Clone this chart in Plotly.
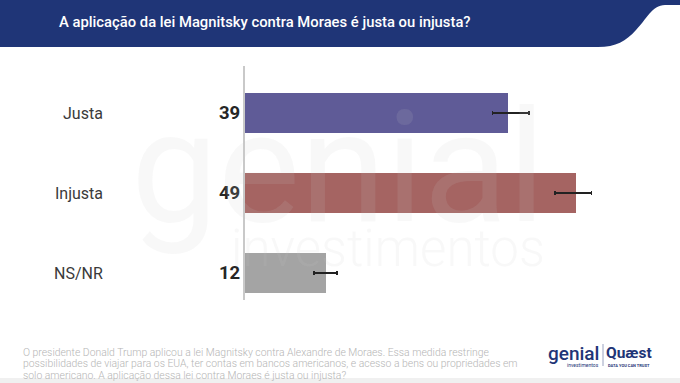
import plotly.graph_objects as go

categories = ["Justa", "Injusta", "NS/NR"]
values = [39, 49, 12]
err_plus = [3.1, 2.3, 1.6]
err_minus = [2.3, 3.1, 1.8]
colors = ["#5f5b97", "#a56462", "#a4a4a4"]

title_text = "A aplicação da lei Magnitsky contra Moraes é justa ou injusta?"
footnote_lines = [
    "O presidente Donald Trump aplicou a lei Magnitsky contra Alexandre de Moraes. Essa medida restringe",
    "possibilidades de viajar para os EUA, ter contas em bancos americanos, e acesso a bens ou propriedades em",
    "solo americano. A aplicação dessa lei contra Moraes é justa ou injusta?",
]

W, H = 680, 383
L, R, T, B = 245, 30, 66, 83
PW, PH = W - L - R, H - T - B

def px(x):
    return (x - L) / PW

def py(y):
    return 1 - (y - T) / PH

fig = go.Figure()
fig.add_trace(go.Bar(
    y=categories, x=values, orientation="h",
    marker=dict(color=colors, line=dict(width=0)),
    width=0.49,
    error_x=dict(type="data", symmetric=False, array=err_plus, arrayminus=err_minus,
                 color="#222222", thickness=1.5, width=2),
    hoverinfo="skip",
))

ann = []
for c, v in zip(categories, values):
    ann.append(dict(x=0, y=c, xref="x", yref="y", text=f"<b>{v}</b>", showarrow=False,
                    xanchor="right", xshift=-3, font=dict(family="Roboto", size=18.5, color="#262626")))
    ann.append(dict(x=0, y=c, xref="x", yref="y", text=c, showarrow=False,
                    xanchor="right", xshift=-140, font=dict(family="Roboto", size=16, color="#3a3a3a")))

# watermark
wm = "rgba(200,200,200,0.13)"
ann.append(dict(x=px(338), y=py(168), xref="paper", yref="paper", text="genial", showarrow=False,
                xanchor="center", yanchor="middle",
                font=dict(family="Roboto", size=155, color=wm, weight=400)))
ann.append(dict(x=px(388), y=py(248), xref="paper", yref="paper", text="investimentos", showarrow=False,
                xanchor="center", yanchor="middle",
                font=dict(family="Roboto", size=51, color=wm, weight=300)))

# title
ann.append(dict(x=px(57), y=py(22), xref="paper", yref="paper", xanchor="left", yanchor="middle",
                text=title_text, showarrow=False,
                font=dict(family="Roboto", size=14.8, color="white", weight=500)))

# footnote
for i, line in enumerate(footnote_lines):
    ann.append(dict(x=px(21), y=py(352 + 11.5 * i), xref="paper", yref="paper", xanchor="left", yanchor="middle",
                    text=line, showarrow=False,
                    font=dict(family="Roboto", size=10.4, color="#b5b5b5", weight=300)))

# logos
ann.append(dict(x=px(573), y=py(353), xref="paper", yref="paper", text="genial", showarrow=False,
                xanchor="center", yanchor="middle",
                font=dict(family="Roboto", size=19, color="#1f3577", weight=500)))
ann.append(dict(x=px(583), y=py(365), xref="paper", yref="paper", text="investimentos", showarrow=False,
                xanchor="center", yanchor="middle",
                font=dict(family="Roboto", size=5, color="#1f3577")))
ann.append(dict(x=px(629), y=py(353), xref="paper", yref="paper", text="<b>Quæst</b>", showarrow=False,
                xanchor="center", yanchor="middle",
                font=dict(family="Roboto", size=15.5, color="#1f3577")))
ann.append(dict(x=px(629), y=py(365), xref="paper", yref="paper", text="<b>DATA YOU CAN TRUST</b>", showarrow=False,
                xanchor="center", yanchor="middle",
                font=dict(family="Roboto", size=4, color="#1f3577")))

header_path = (
    f"M {px(0)},{py(0)} L {px(680)},{py(0)} L {px(680)},{py(5)} L {px(665)},{py(5)} "
    f"C {px(652)},{py(5)} {px(646)},{py(20)} {px(636)},{py(30)} "
    f"C {px(626)},{py(41)} {px(616)},{py(47)} {px(598)},{py(47)} "
    f"L {px(0)},{py(47)} Z"
)

shapes = [
    dict(type="path", xref="paper", yref="paper", layer="below", path=header_path,
         fillcolor="#1f3577", line=dict(width=0)),
    dict(type="rect", xref="paper", yref="paper", x0=px(0), x1=px(680), y0=py(383), y1=py(378),
         fillcolor="#f0f0f0", line=dict(width=0), layer="below"),
    dict(type="line", xref="paper", yref="paper", x0=px(603), x1=px(603), y0=py(344), y1=py(366),
         line=dict(color="#9aa3c0", width=1)),
]

fig.update_layout(
    width=W, height=H,
    margin=dict(l=L, r=R, t=T, b=B),
    paper_bgcolor="white", plot_bgcolor="rgba(0,0,0,0)",
    showlegend=False,
    xaxis=dict(range=[0, 60], visible=False, fixedrange=True),
    yaxis=dict(range=[2.3375, -0.5875], showticklabels=False, showgrid=False, zeroline=False,
               showline=True, linecolor="#c9c9c9", linewidth=2, ticks="", fixedrange=True),
    annotations=ann, shapes=shapes,
    bargap=0,
)

fig.write_html("out.html", config={"displayModeBar": False},
               post_script="document.body.style.margin='0';document.body.style.overflow='hidden';")
